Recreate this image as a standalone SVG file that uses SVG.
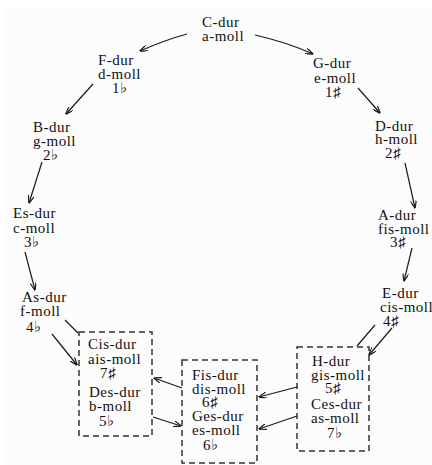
<svg xmlns="http://www.w3.org/2000/svg" width="432" height="465" viewBox="0 0 432 465">
<defs>
<style>
text{font-family:"Liberation Serif","DejaVu Serif",serif;font-size:15px;letter-spacing:0.5px;fill:#111}
.c{fill:none;stroke:#1a1a1a;stroke-width:1.2}
.box{fill:none;stroke:#333;stroke-width:1.5;stroke-dasharray:6,4}
</style>
<marker id="ah" viewBox="0 0 8 6" refX="7.5" refY="3" markerWidth="8" markerHeight="6" markerUnits="userSpaceOnUse" orient="auto">
<path d="M0,0 L8,3 L0,6" fill="none" stroke="#1a1a1a" stroke-width="1.2"/>
</marker>
</defs>
<rect width="432" height="465" fill="#fff"/>
<rect x="6" y="8" width="426" height="457" fill="#fcfcfc"/>

<g id="n-C"><text x="202" y="27">C-dur</text><text x="202" y="41">a-moll</text></g>
<g id="n-F"><text x="98" y="65">F-dur</text><text x="98" y="79">d-moll</text><text x="112" y="93">1♭</text></g>
<g id="n-G"><text x="313" y="68">G-dur</text><text x="314" y="83">e-moll</text><text x="325" y="97">1♯</text></g>
<g id="n-B"><text x="33" y="132">B-dur</text><text x="33" y="146">g-moll</text><text x="43" y="160">2♭</text></g>
<g id="n-D"><text x="375" y="131">D-dur</text><text x="375" y="144">h-moll</text><text x="385" y="158">2♯</text></g>
<g id="n-Es"><text x="13" y="218">Es-dur</text><text x="13" y="233">c-moll</text><text x="24" y="247">3♭</text></g>
<g id="n-A"><text x="378" y="220">A-dur</text><text x="378" y="234">fis-moll</text><text x="390" y="247">3♯</text></g>
<g id="n-As"><text x="22" y="302">As-dur</text><text x="20" y="316">f-moll</text><text x="26" y="332">4♭</text></g>
<g id="n-E"><text x="382" y="298">E-dur</text><text x="380" y="312">cis-moll</text><text x="383" y="326">4♯</text></g>

<g id="box-Cis">
<rect class="box" x="79" y="332" width="73" height="104"/>
<text x="88" y="349">Cis-dur</text><text x="88" y="364">ais-moll</text><text x="100" y="378">7♯</text>
<text x="89" y="397">Des-dur</text><text x="89" y="411">b-moll</text><text x="99" y="426">5♭</text>
</g>
<g id="box-Fis">
<rect class="box" x="182" y="360" width="75" height="103"/>
<text x="192" y="380">Fis-dur</text><text x="192" y="394">dis-moll</text><text x="202" y="407">6♯</text>
<text x="192" y="421">Ges-dur</text><text x="192" y="435">es-moll</text><text x="203" y="450">6♭</text>
</g>
<g id="box-H">
<rect class="box" x="297" y="347" width="72" height="104"/>
<text x="312" y="366">H-dur</text><text x="311" y="380">gis-moll</text><text x="325" y="393">5♯</text>
<text x="311" y="409">Ces-dur</text><text x="311" y="423">as-moll</text><text x="327" y="438">7♭</text>
</g>

<g id="connectors">
<path class="c" marker-end="url(#ah)" d="M187,34 Q165,40 140,51"/>
<path class="c" marker-end="url(#ah)" d="M255,35 Q286,42 313,54"/>
<path class="c" marker-end="url(#ah)" d="M93,84 L66,114"/>
<path class="c" marker-end="url(#ah)" d="M358,88 L380,113"/>
<path class="c" marker-end="url(#ah)" d="M42,162 L29,203"/>
<path class="c" marker-end="url(#ah)" d="M405,163 L415,208"/>
<path class="c" marker-end="url(#ah)" d="M25,252 L35,290"/>
<path class="c" marker-end="url(#ah)" d="M412,248 L404,281"/>
<path class="c" d="M65,320 L78,333"/>
<path class="c" marker-end="url(#ah)" d="M52,334 L77,365"/>
<path class="c" d="M375,325 L357,346"/>
<path class="c" marker-end="url(#ah)" d="M392,328 L369,355"/>
<path class="c" marker-end="url(#ah)" d="M182,388 L154,378"/>
<path class="c" marker-end="url(#ah)" d="M153,417 L181,426"/>
<path class="c" marker-end="url(#ah)" d="M297,387 L259,397"/>
<path class="c" marker-end="url(#ah)" d="M297,416 L259,429"/>
</g>
</svg>
